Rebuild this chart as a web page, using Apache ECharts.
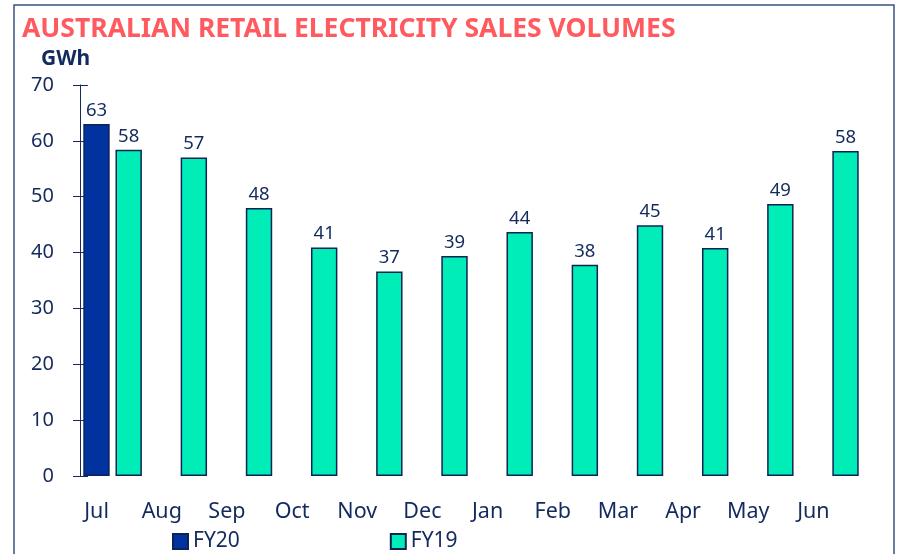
<!DOCTYPE html>
<html lang="en">

<head>
  <meta charset="UTF-8">
  <title>Australian Retail Electricity Sales Volumes</title>
  <script src="https://cdn.jsdelivr.net/npm/echarts@6.0.0/dist/echarts.min.js"></script>
  <style>
    html, body { margin: 0; padding: 0; background: #fff; }
  </style>
</head>

<body>
  <div id="main" style="width: 898px;height:554px;"></div>

  <script type="text/javascript">
    // values (GWh)
    const months = ['Jul', 'Aug', 'Sep', 'Oct', 'Nov', 'Dec', 'Jan', 'Feb', 'Mar', 'Apr', 'May', 'Jun'];
    const fy20 = [63.0, null, null, null, null, null, null, null, null, null, null, null];
    const fy19 = [58.4, 57.0, 48.0, 40.9, 36.6, 39.4, 43.7, 37.8, 44.9, 40.8, 48.7, 58.2];
    const yTicks = [0, 10, 20, 30, 40, 50, 60, 70];

    const navy = '#132a5e';
    const font = 'Noto Sans';

    let myChart = echarts.init(document.getElementById('main'));

    let options = {
      animation: false,
      textStyle: { fontFamily: font, color: navy },
      title: [
        {
          text: 'AUSTRALIAN RETAIL ELECTRICITY SALES VOLUMES',
          left: 17, top: 11,
          textStyle: { fontFamily: font, fontSize: 26.5, fontWeight: 'bold', color: '#ff5a5f' }
        },
        {
          text: 'GWh',
          left: 36, top: 44,
          textStyle: { fontFamily: font, fontSize: 21, fontWeight: 'bold', color: navy }
        }
      ],
      graphic: [{
        type: 'rect',
        shape: { x: 14, y: 5, width: 880, height: 560 },
        style: { fill: 'none', stroke: '#3b5283', lineWidth: 1.5 },
        silent: true
      }],
      legend: {
        left: 167, top: 526,
        icon: 'rect',
        itemWidth: 15, itemHeight: 15,
        itemGap: 150,
        textStyle: { fontFamily: font, fontSize: 21, color: navy },
        data: ['FY20', 'FY19']
      },
      grid: { left: 80, right: 36, top: 85, bottom: 78, containLabel: false },
      xAxis: {
        type: 'category',
        data: months,
        axisLine: { show: false },
        axisTick: { show: false },
        axisLabel: {
          fontFamily: font, fontSize: 21.5, color: navy,
          margin: 25,
          padding: [0, 32, 0, 0]
        }
      },
      yAxis: [
        {
          type: 'value',
          min: yTicks[0], max: yTicks[yTicks.length - 1], interval: 10,
          axisLine: { show: true, lineStyle: { color: navy, width: 1 } },
          axisTick: { show: true, length: 7, lineStyle: { color: navy } },
          splitLine: { show: false },
          axisLabel: { fontFamily: font, fontSize: 20, color: navy, margin: 26 }
        },
        {
          type: 'value', position: 'left',
          min: yTicks[0], max: yTicks[yTicks.length - 1], interval: 10,
          axisLine: { show: false },
          axisTick: { show: true, inside: true, length: 8, lineStyle: { color: navy } },
          splitLine: { show: false },
          axisLabel: { show: false }
        }
      ],
      series: [
        {
          name: 'FY20',
          type: 'bar',
          data: fy20,
          barWidth: '40.5%',
          barGap: '22%',
          itemStyle: { color: '#0033a0', borderColor: '#0d2356', borderWidth: 1.5 },
          label: {
            show: true, position: 'top', distance: 4,
            fontFamily: font, fontSize: 18.5, color: navy,
            formatter: p => Math.round(p.value)
          }
        },
        {
          name: 'FY19',
          type: 'bar',
          data: fy19,
          barWidth: '40.5%',
          itemStyle: { color: '#00edb8', borderColor: '#0d2356', borderWidth: 1.5 },
          label: {
            show: true, position: 'top', distance: 4,
            fontFamily: font, fontSize: 18.5, color: navy,
            formatter: p => Math.round(p.value)
          }
        }
      ]
    };

    myChart.setOption(options);
  </script>

</body>

</html>
